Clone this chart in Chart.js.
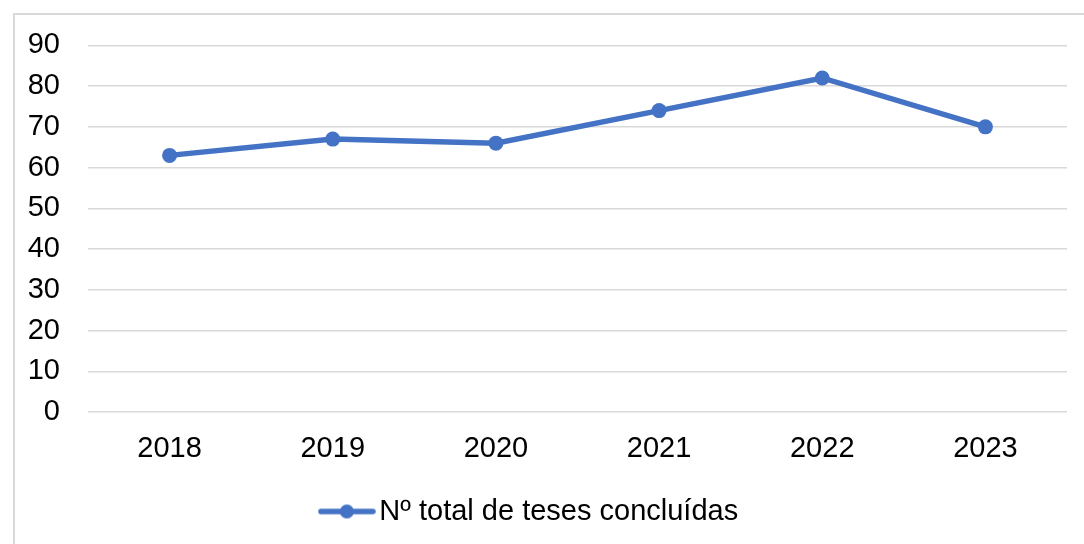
<!DOCTYPE html>
<html>
<head>
<meta charset="utf-8">
<script src="https://cdn.jsdelivr.net/npm/chart.js"></script>
<style>
  html, body { margin: 0; padding: 0; background: #fff; overflow: hidden; }
  .wrap { position: relative; width: 1084px; height: 544px; }
  .frame { position: absolute; left: 13px; top: 13px; width: 1200px; height: 700px; border: 2px solid #d9d9d9; box-sizing: border-box; }
  canvas { position: absolute; left: 0; top: 0; }
</style>
</head>
<body>
<div class="wrap">
  <div class="frame"></div>
  <canvas id="chart" width="1084" height="544"></canvas>
</div>
<script>
const years = ['2018', '2019', '2020', '2021', '2022', '2023'];
const teses = [63, 67, 66, 74, 82, 70];
const seriesLabel = 'Nº total de teses concluídas';
const yMax = 90;
const yStep = 10;

const blue = '#4472C4';
const fontFamily = "'Liberation Sans Narrow', 'Arial Narrow', 'Liberation Sans', Arial, sans-serif";

// legend marker: short line with a dot in the middle
const marker = document.createElement('canvas');
marker.width = 58;
marker.height = 16;
const mctx = marker.getContext('2d');
mctx.strokeStyle = blue;
mctx.lineWidth = 5.5;
mctx.lineCap = 'round';
mctx.beginPath();
mctx.moveTo(3, 8);
mctx.lineTo(55, 8);
mctx.stroke();
mctx.fillStyle = blue;
mctx.beginPath();
mctx.arc(29, 8, 7, 0, Math.PI * 2);
mctx.fill();

Chart.defaults.font.family = fontFamily;
Chart.defaults.font.size = 29;
Chart.defaults.color = '#000';

new Chart(document.getElementById('chart'), {
  type: 'line',
  data: {
    labels: years,
    datasets: [{
      label: seriesLabel,
      data: teses,
      borderColor: blue,
      backgroundColor: blue,
      borderWidth: 5.5,
      pointRadius: 7.5,
      pointHoverRadius: 7.5,
      pointBackgroundColor: blue,
      pointBorderWidth: 0,
      tension: 0
    }]
  },
  options: {
    responsive: false,
    animation: false,
    layout: { padding: { top: 45, right: 17, left: 0, bottom: 8 } },
    scales: {
      x: {
        offset: true,
        grid: { display: false },
        border: { display: false },
        ticks: { padding: 12, font: { size: 29 } },
        afterFit: (scale) => { scale.height = 75; }
      },
      y: {
        min: 0,
        max: yMax,
        grid: { color: '#d9d9d9', lineWidth: 1.5, drawTicks: false },
        border: { display: false },
        ticks: { stepSize: yStep, padding: 28, font: { size: 29 } },
        afterFit: (scale) => { scale.width = 88; }
      }
    },
    plugins: {
      legend: {
        position: 'bottom',
        labels: {
          usePointStyle: true,
          pointStyle: marker,
          pointStyleWidth: 36,
          boxHeight: 16,
          padding: 10,
          font: { size: 29 }
        }
      },
      tooltip: { enabled: false }
    }
  }
});
</script>
</body>
</html>
